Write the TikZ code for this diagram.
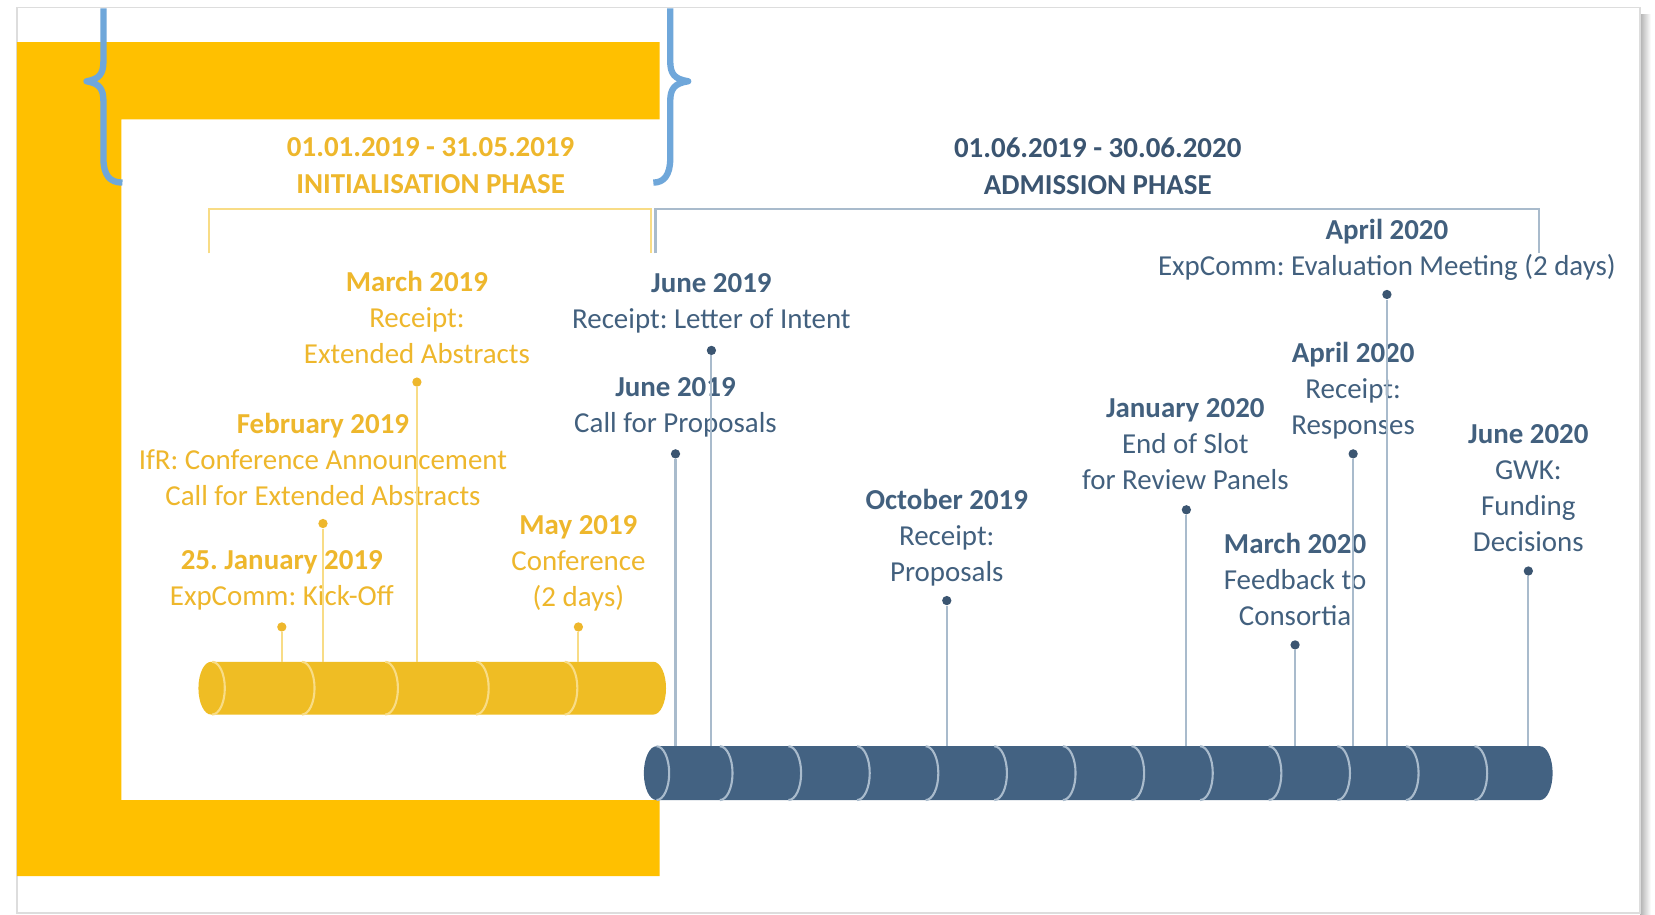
\documentclass[tikz,border=0pt]{standalone}
\usepackage{fontspec}
\setmainfont{Carlito}
\frenchspacing
\usetikzlibrary{positioning}

\definecolor{amber}{HTML}{FFC000}
\definecolor{gold}{HTML}{EFBD24}
\definecolor{goldline}{HTML}{F8DC86}
\definecolor{goldtext}{HTML}{EEB72C}
\definecolor{slate}{HTML}{436282}
\definecolor{slateline}{HTML}{A9BBCC}
\definecolor{slatetext}{HTML}{42607E}
\definecolor{slatehead}{HTML}{3B5571}
\definecolor{bracecol}{HTML}{6FA7DA}
\definecolor{framecol}{HTML}{DDDDDD}

\tikzset{
  evt/.style={align=center,inner sep=0pt,anchor=north,font=\fontsize{13.7}{17}\selectfont},
  head/.style={align=center,inner sep=0pt,anchor=north,font=\bfseries\fontsize{13.7}{17.5}\selectfont},
  dot/.style={circle,inner sep=0pt,minimum size=4.4pt},
  halfy/.style={start angle=-90,end angle=90,x radius=12,y radius=25},
  halfb/.style={start angle=-90,end angle=90,x radius=12,y radius=25.5}
}

\begin{document}
\begin{tikzpicture}[x=0.5pt,y=-0.5pt]
\useasboundingbox (0,0) rectangle (1568,866);

% frame
\shade[left color=black!30,right color=white] (1554,14) rectangle (1564,866);
\draw[framecol,line width=0.8pt,fill=white] (16,7) rectangle (1554,865);
\fill[amber] (16,40) -| (625,113) -| (115,758) -| (625,830) -| (16,40) -- cycle;

% braces
\draw[bracecol,line width=3pt,line join=round] (98,8) -- (98,58) .. controls (98,70) and (94,75) .. (82,77)
  .. controls (94,79) and (98,84) .. (98,96) -- (98,150) .. controls (98,166) and (104,173) .. (116,173);
\draw[bracecol,line width=3pt,line join=round] (635,8) -- (635,58) .. controls (635,70) and (639,75) .. (652,77)
  .. controls (639,79) and (635,84) .. (635,96) -- (635,150) .. controls (635,166) and (629,173) .. (619,173);

% phases
\node[head,text=goldtext] (initph) at (408,130) {01.01.2019 - 31.05.2019\\INITIALISATION PHASE};
\node[head,text=slatehead] (admph) at (1040,130) {01.06.2019 - 30.06.2020\\ADMISSION PHASE};
\draw[goldline,line width=1pt] (198,240) |- (617,198) -- (617,240);
\draw[slateline,line width=1pt] (621,240) |- (1458,198) -- (1458,240);

% cylinders
\fill[gold] (200,627) -- (619,627) arc[halfy] -- (200,677) arc[start angle=90,end angle=270,x radius=12,y radius=25] -- cycle;
\draw[goldline,line width=1pt] (201,627) arc[halfy] (286,627) arc[halfy] (365,627) arc[halfy]
  (451,627) arc[halfy] (535,627) arc[halfy];
\fill[slate] (622,707) -- (1459,707) arc[halfb] -- (622,758) arc[start angle=90,end angle=270,x radius=12,y radius=25.5] -- cycle;
\draw[slateline,line width=1pt] (622,707) arc[halfb] (682,707) arc[halfb] (747,707) arc[halfb]
  (812,707) arc[halfb] (877,707) arc[halfb] (942,707) arc[halfb] (1007,707) arc[halfb]
  (1072,707) arc[halfb] (1137,707) arc[halfb] (1202,707) arc[halfb] (1267,707) arc[halfb]
  (1332,707) arc[halfb] (1397,707) arc[halfb];
\coordinate (goldtop) at (0,627);
\coordinate (slatetop) at (0,707);

\begin{scope}[every node/.style={evt,text=goldtext}]
    \node (jan19) at (267,521) {\textbf{25. January 2019}\\ExpComm: Kick-Off};
    \node (feb19) at (306,391) {\textbf{February 2019}\\IfR: Conference Announcement\\Call for Extended Abstracts};
    \node (mar19) at (395,257) {\textbf{March 2019}\\Receipt:\\Extended Abstracts};
    \node (may19) at (548,488) {\textbf{May 2019}\\Conference\\(2 days)};
\end{scope}

\begin{scope}[every node/.style={evt,text=slatetext}]
    \node (jun19a) at (674,259) {\textbf{June 2019}\\Receipt: Letter of Intent};
    \node (jun19b) at (640,357) {\textbf{June 2019}\\Call for Proposals};
    \node (oct19) at (897,463) {\textbf{October 2019}\\Receipt:\\Proposals};
    \node (jan20) at (1123,377) {\textbf{January 2020}\\End of Slot\\for Review Panels};
    \node (mar20) at (1227,505) {\textbf{March 2020}\\Feedback to\\Consortia};
    \node (apr20a) at (1282,324) {\textbf{April 2020}\\Receipt:\\Responses};
    \node (apr20b) at (1314,207) {\textbf{April 2020}\\ExpComm: Evaluation Meeting (2 days)};
    \node (jun20) at (1448,402) {\textbf{June 2020}\\GWK:\\Funding\\Decisions};
\end{scope}

\begin{scope}[every node/.style={dot,fill=goldtext}]
    \node (jan19d) at (267,594) {};
    \node (feb19d) at (306,496) {};
    \node (mar19d) at (395,362) {};
    \node (may19d) at (548,594) {};
\end{scope}

\begin{scope}[every node/.style={dot,fill=slatehead}]
    \node (jun19ad) at (674,332) {};
    \node (jun19bd) at (640,430) {};
    \node (oct19d) at (897,569) {};
    \node (jan20d) at (1124,483) {};
    \node (mar20d) at (1227,611) {};
    \node (apr20ad) at (1282,430) {};
    \node (apr20bd) at (1314,279) {};
    \node (jun20d) at (1448,541) {};
\end{scope}

\begin{scope}[every edge/.style={draw=goldline,line width=1pt}]
    \path (jan19d) edge (jan19d |- goldtop);
    \path (feb19d) edge (feb19d |- goldtop);
    \path (mar19d) edge (mar19d |- goldtop);
    \path (may19d) edge (may19d |- goldtop);
\end{scope}

\begin{scope}[every edge/.style={draw=slateline,line width=1pt}]
    \path (jun19ad) edge (jun19ad |- slatetop);
    \path (jun19bd) edge (jun19bd |- slatetop);
    \path (oct19d) edge (oct19d |- slatetop);
    \path (jan20d) edge (jan20d |- slatetop);
    \path (mar20d) edge (mar20d |- slatetop);
    \path (apr20ad) edge (apr20ad |- slatetop);
    \path (apr20bd) edge (apr20bd |- slatetop);
    \path (jun20d) edge (jun20d |- slatetop);
\end{scope}
\end{tikzpicture}
\end{document}
